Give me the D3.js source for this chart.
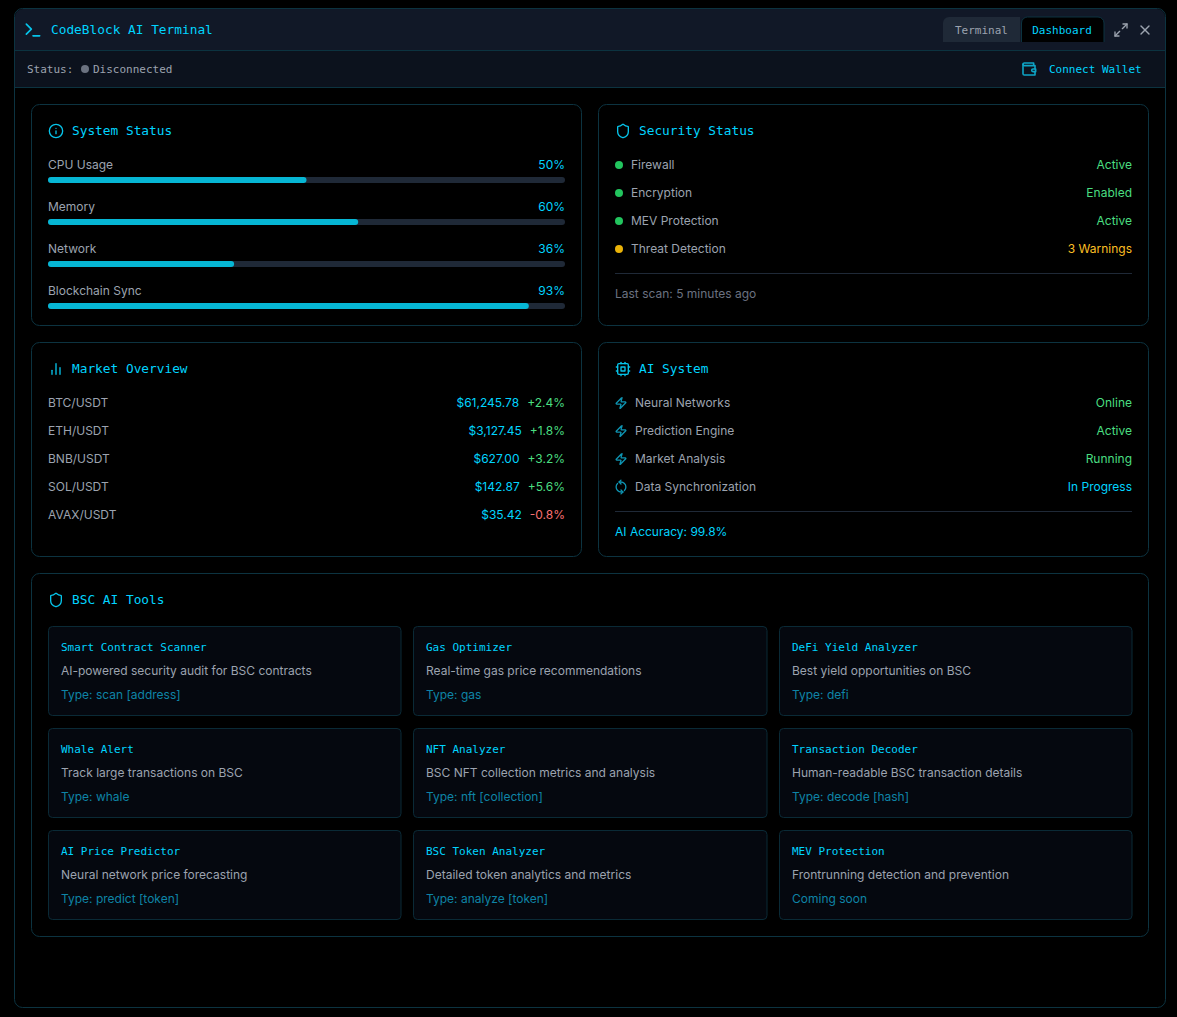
<!DOCTYPE html>
<html>
<head>
<meta charset="utf-8">
<title>CodeBlock AI Terminal</title>
<script src="https://d3js.org/d3.v7.min.js"></script>
<style>
html, body { margin: 0; padding: 0; background: #000; overflow: hidden; }
svg { display: block; }
#labels { position: absolute; left: 0; top: 0; }
#labels div { position: absolute; white-space: pre; line-height: 16px; }
.mono { font-family: "DejaVu Sans Mono", monospace; }
.sans { font-family: Inter, "Noto Sans", sans-serif; }
</style>
</head>
<body>
<svg id="chart" width="1177" height="1017"></svg>
<div id="labels"></div>
<script>
// data
var systemLabels = ['CPU Usage', 'Memory', 'Network', 'Blockchain Sync'];
var systemValues = [50, 60, 36, 93];

var securityLabels = ['Firewall', 'Encryption', 'MEV Protection', 'Threat Detection'];
var securityStates = ['Active', 'Enabled', 'Active', '3 Warnings'];
var securityKinds = ['ok', 'ok', 'ok', 'warn'];

var marketPairs = ['BTC/USDT', 'ETH/USDT', 'BNB/USDT', 'SOL/USDT', 'AVAX/USDT'];
var marketPrices = [61245.78, 3127.45, 627.00, 142.87, 35.42];
var marketChanges = [2.4, 1.8, 3.2, 5.6, -0.8];

var aiLabels = ['Neural Networks', 'Prediction Engine', 'Market Analysis', 'Data Synchronization'];
var aiStates = ['Online', 'Active', 'Running', 'In Progress'];
var aiIcons = ['bolt', 'bolt', 'bolt', 'sync'];

var toolNames = ['Smart Contract Scanner', 'Gas Optimizer', 'DeFi Yield Analyzer',
  'Whale Alert', 'NFT Analyzer', 'Transaction Decoder',
  'AI Price Predictor', 'BSC Token Analyzer', 'MEV Protection'];
var toolDescs = ['AI-powered security audit for BSC contracts', 'Real-time gas price recommendations', 'Best yield opportunities on BSC',
  'Track large transactions on BSC', 'BSC NFT collection metrics and analysis', 'Human-readable BSC transaction details',
  'Neural network price forecasting', 'Detailed token analytics and metrics', 'Frontrunning detection and prevention'];
var toolTypes = ['Type: scan [address]', 'Type: gas', 'Type: defi',
  'Type: whale', 'Type: nft [collection]', 'Type: decode [hash]',
  'Type: predict [token]', 'Type: analyze [token]', 'Coming soon'];

var sky = '#00d4ff', iconBlue = '#06c4ea', border = '#0c3340', grey = '#9ca3af';
var green = '#4ade80', amber = '#fbbf24';

var svg = d3.select('#chart');
var labels = d3.select('#labels');

function box(x, y, w, h, r, fill, stroke) {
  return svg.append('rect').attr('x', x).attr('y', y).attr('width', w).attr('height', h)
    .attr('rx', r).attr('fill', fill).attr('stroke', stroke || 'none');
}
// y is the text baseline, anchor works like svg text-anchor
function label(x, y, str, size, fill, cls, anchor) {
  var div = labels.append('div').attr('class', cls || 'sans')
    .style('font-size', size + 'px').style('color', fill).text(str);
  var probe = div.append('span').style('display', 'inline-block');
  var base = probe.node().getBoundingClientRect().bottom - div.node().getBoundingClientRect().top;
  probe.remove();
  var w = div.node().getBoundingClientRect().width;
  var left = anchor == 'end' ? x - w : anchor == 'middle' ? x - w / 2 : x;
  div.style('left', left + 'px').style('top', (y - base) + 'px');
  return div;
}
function icon(x, y, size, paths, color, rotate, weight) {
  var g = svg.append('g')
    .attr('transform', 'translate(' + x + ',' + y + ') scale(' + size / 24 + ')' + (rotate ? ' rotate(' + rotate + ' 12 12)' : ''))
    .attr('fill', 'none').attr('stroke', color).attr('stroke-width', weight || 2)
    .attr('stroke-linecap', 'round').attr('stroke-linejoin', 'round');
  paths.forEach(function(d) { g.append('path').attr('d', d); });
}

var shieldPath = ['M20 13c0 5-3.5 7.5-7.66 8.95a1 1 0 0 1-.67-.01C7.5 20.5 4 18 4 13V6a1 1 0 0 1 1-1c2 0 4.5-1.2 6.24-2.72a1.17 1.17 0 0 1 1.52 0C14.51 3.81 17 5 19 5a1 1 0 0 1 1 1z'];
var boltPath = ['M4 14a1 1 0 0 1-.78-1.63l9.9-10.2a.5.5 0 0 1 .86.46l-1.92 6.02A1 1 0 0 0 13 10h7a1 1 0 0 1 .78 1.63l-9.9 10.2a.5.5 0 0 1-.86-.46l1.92-6.02A1 1 0 0 0 11 14z'];
var syncPath = ['M21 12a9 9 0 0 0-9-9 9.75 9.75 0 0 0-6.74 2.74L3 8', 'M3 3v5h5', 'M3 12a9 9 0 0 0 9 9 9.75 9.75 0 0 0 6.74-2.74L21 16', 'M16 16h5v5'];

// window frame
box(14.5, 8.5, 1151, 999, 8, '#000', border);
svg.append('path').attr('d', 'M15 50V17a8 8 0 0 1 8-8H1157a8 8 0 0 1 8 8V50z').attr('fill', '#111827');
box(15, 51, 1150, 36, 0, '#0c121d');
svg.append('line').attr('x1', 15).attr('x2', 1165).attr('y1', 50.5).attr('y2', 50.5).attr('stroke', border);
svg.append('line').attr('x1', 15).attr('x2', 1165).attr('y1', 87.5).attr('y2', 87.5).attr('stroke', border);

// title bar
icon(23, 20, 20, ['M4 17l6-6-6-6', 'M12 19h8'], iconBlue);
label(51, 34, 'CodeBlock AI Terminal', 12.8, sky, 'mono');

svg.append('path').attr('d', 'M943 42V23a6 6 0 0 1 6-6H1020V42z').attr('fill', '#1f2937');
label(981.5, 34, 'Terminal', 11, grey, 'mono', 'middle');
svg.append('path').attr('d', 'M1021.5 42V23a6 6 0 0 1 6-6H1098a6 6 0 0 1 6 6V42').attr('fill', '#000').attr('stroke', border);
label(1062, 34, 'Dashboard', 11, sky, 'mono', 'middle');
icon(1113, 22, 16, ['M21 3l-7 7', 'M15 3h6v6', 'M3 21l7-7', 'M3 15v6h6'], grey);
icon(1137, 22, 16, ['M18 6L6 18', 'M6 6l12 12'], grey);

// status bar
label(27, 73, 'Status:', 11, grey, 'mono');
svg.append('circle').attr('cx', 85).attr('cy', 69).attr('r', 4).attr('fill', '#6b7280');
label(93, 73, 'Disconnected', 11, grey, 'mono');
icon(1021, 61, 16, ['M21 12V7H5a2 2 0 0 1 0-4h14v4', 'M3 5v14a2 2 0 0 0 2 2h16v-5', 'M18 12a2 2 0 0 0 0 4h4v-4z'], '#0ea5c6', 0, 2.4);
label(1049, 73, 'Connect Wallet', 11, sky, 'mono');

// panels
function panel(x, y, w, h, title, iconPaths) {
  box(x + 0.5, y + 0.5, w, h, 8, '#000', border);
  icon(x + 17, y + 19, 16, iconPaths, iconBlue);
  label(x + 41, y + 31, title, 12.8, sky, 'mono');
}

panel(31, 104, 550, 221, 'System Status', ['M12 2a10 10 0 1 0 0 20a10 10 0 1 0 0-20z', 'M12 16v-4', 'M12 8h.01']);
panel(598, 104, 550, 221, 'Security Status', shieldPath);
panel(31, 342, 550, 214, 'Market Overview', ['M18 20V10', 'M12 20V4', 'M6 20v-6']);
panel(598, 342, 550, 214, 'AI System', ['M6 4h12a2 2 0 0 1 2 2v12a2 2 0 0 1-2 2H6a2 2 0 0 1-2-2V6a2 2 0 0 1 2-2z', 'M9 9h6v6H9z', 'M15 2v2', 'M15 20v2', 'M2 15h2', 'M2 9h2', 'M20 15h2', 'M20 9h2', 'M9 2v2', 'M9 20v2']);
panel(31, 573, 1117, 363, 'BSC AI Tools', shieldPath);

// system status bars
var sysY = d3.scalePoint().domain(systemLabels).range([165, 291]);
var barX = d3.scaleLinear().domain([0, 100]).range([0, 517]);
svg.append('g').selectAll('rect').data(systemValues).enter().append('rect')
  .attr('x', 48).attr('y', function(d, i) { return sysY(systemLabels[i]) + 12; })
  .attr('width', barX(100)).attr('height', 6).attr('rx', 3).attr('fill', '#1f2937');
svg.append('g').selectAll('rect').data(systemValues).enter().append('rect')
  .attr('x', 48).attr('y', function(d, i) { return sysY(systemLabels[i]) + 12; })
  .attr('width', function(d) { return barX(d); }).attr('height', 6).attr('rx', 3).attr('fill', '#06b6d4');
systemLabels.forEach(function(d, i) {
  label(48, sysY(d) + 4, d, 12, grey);
  label(565, sysY(d) + 4, systemValues[i] + '%', 12, sky, 'sans', 'end');
});

// security list
var secY = d3.scalePoint().domain(securityLabels).range([165, 249]);
var kindColor = { ok: '#22c55e', warn: '#eab308' };
var kindText = { ok: green, warn: amber };
svg.append('g').selectAll('circle').data(securityLabels).enter().append('circle')
  .attr('cx', 619).attr('cy', function(d) { return secY(d); }).attr('r', 4)
  .attr('fill', function(d, i) { return kindColor[securityKinds[i]]; });
securityLabels.forEach(function(d, i) {
  label(631, secY(d) + 4, d, 12, grey);
  label(1132, secY(d) + 4, securityStates[i], 12, kindText[securityKinds[i]], 'sans', 'end');
});
svg.append('line').attr('x1', 615).attr('x2', 1132).attr('y1', 273.5).attr('y2', 273.5).attr('stroke', '#1f2937');
label(615, 298, 'Last scan: 5 minutes ago', 12, '#6b7280');

// market list
var mktY = d3.scalePoint().domain(marketPairs).range([403, 515]);
var priceFmt = d3.format('$,.2f');
var changeFmt = d3.format('+.1f');
marketPairs.forEach(function(d, i) {
  var c = marketChanges[i];
  label(48, mktY(d) + 4, d, 12, grey);
  var chg = label(565, mktY(d) + 4, changeFmt(c).replace('\u2212', '-') + '%', 12, c < 0 ? '#f87171' : green, 'sans', 'end');
  var w = chg.node().getBoundingClientRect().width;
  label(565 - w - 8, mktY(d) + 4, priceFmt(marketPrices[i]), 12, sky, 'sans', 'end');
});

// ai system list
var aiY = d3.scalePoint().domain(aiLabels).range([403, 487]);
aiLabels.forEach(function(d, i) {
  var isBolt = aiIcons[i] == 'bolt';
  icon(614.5, aiY(d) - 6.5, 13, isBolt ? boltPath : syncPath, '#0e94b2', isBolt ? 0 : 45, 2.4);
  label(635, aiY(d) + 4, d, 12, grey);
  label(1132, aiY(d) + 4, aiStates[i], 12, isBolt ? green : sky, 'sans', 'end');
});
svg.append('line').attr('x1', 615).attr('x2', 1132).attr('y1', 511.5).attr('y2', 511.5).attr('stroke', '#1f2937');
label(615, 536, 'AI Accuracy: 99.8%', 12, sky);

// tool cards
var toolX = [48, 413, 779];
var toolW = [352.5, 353.5, 352.5];
var toolY = d3.scalePoint().domain([0, 1, 2]).range([626, 830]);
toolNames.forEach(function(d, i) {
  var col = i % 3, row = Math.floor(i / 3);
  var x = toolX[col], y = toolY(row);
  box(x + 0.5, y + 0.5, toolW[col], 89, 4, '#05080f', '#0a2a36');
  label(x + 13, y + 25, d, 11, sky, 'mono');
  label(x + 13, y + 49, toolDescs[i], 12, grey);
  label(x + 13, y + 73, toolTypes[i], 12, '#0e84a6');
});
</script>
</body>
</html>
